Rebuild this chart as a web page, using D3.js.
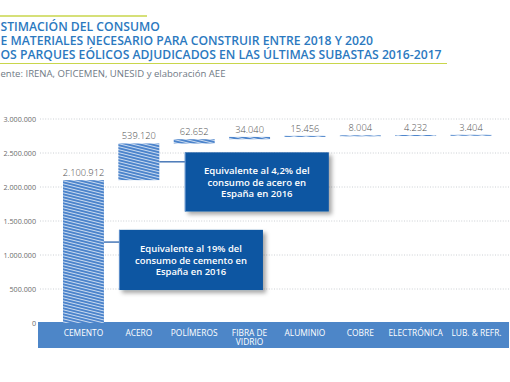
<!DOCTYPE html>
<html>
<head>
<meta charset="utf-8">
<script src="https://cdn.jsdelivr.net/npm/d3@7"></script>
<style>
  html, body { margin: 0; padding: 0; background: #fff; }
  svg { display: block; }
</style>
</head>
<body>
<div id="chart"></div>
<script>
// ---- data ----
const categories = ["CEMENTO", "ACERO", "POLÍMEROS", "FIBRA DE\nVIDRIO", "ALUMINIO", "COBRE", "ELECTRÓNICA", "LUB. & REFR."];
const values = [2100912, 539120, 62652, 34040, 15456, 8004, 4232, 3404];
const valueLabels = ["2.100.912", "539.120", "62.652", "34.040", "15.456", "8.004", "4.232", "3.404"];
const yTicks = [0, 500000, 1000000, 1500000, 2000000, 2500000, 3000000];
const yTickLabels = ["0", "500.000", "1.000.000", "1.500.000", "2.000.000", "2.500.000", "3.000.000"];
// title and source as visible in the reference (left edge cropped in the original image)
const titleLines = ["STIMACIÓN DEL CONSUMO", "E MATERIALES NECESARIO PARA CONSTRUIR ENTRE 2018 Y 2020", "OS PARQUES EÓLICOS ADJUDICADOS EN LAS ÚLTIMAS SUBASTAS 2016-2017"];
const sourceText = "ente: IRENA, OFICEMEN, UNESID y elaboración AEE";
const callouts = [
  { cat: "ACERO", lines: ["Equivalente al 4,2% del", "consumo de acero en", "España en 2016"], anchor: 2370472, top: 2510000, bottom: 1640000 },
  { cat: "CEMENTO", lines: ["Equivalente al 19% del", "consumo de cemento en", "España en 2016"], anchor: 1190000, top: 1370000, bottom: 485000 }
];

// ---- layout ----
const W = 510, H = 382;
const FONT = "'Open Sans', 'Noto Sans', sans-serif";
const svg = d3.select("#chart").append("svg").attr("width", W).attr("height", H);

const defs = svg.append("defs");
const pat = defs.append("pattern").attr("id", "hatch").attr("patternUnits", "userSpaceOnUse")
  .attr("width", 12).attr("height", 3);
pat.append("rect").attr("width", 12).attr("height", 3).attr("fill", "#4c84cb");
pat.append("path").attr("d", "M0,0 L12,3 M0,-3 L12,0 M0,3 L12,6")
  .attr("stroke", "#e3ecf7").attr("stroke-width", 0.85);
const filt = defs.append("filter").attr("id", "shadow").attr("x", "-20%").attr("y", "-20%").attr("width", "150%").attr("height", "150%");
filt.append("feDropShadow").attr("dx", 3).attr("dy", 3).attr("stdDeviation", 2.2)
  .attr("flood-color", "#000").attr("flood-opacity", 0.35);

const x = d3.scaleBand().domain(categories).range([55.8, 498.7]).paddingInner(0.26).paddingOuter(0.13);
const y = d3.scaleLinear().domain([0, 3000000]).range([323, 119]);

// helper: set font size so that text reaches target width
function fitWidth(sel, width) {
  const fs0 = +sel.attr("font-size");
  const w = sel.node().getComputedTextLength();
  sel.attr("font-size", fs0 * width / w);
}

// waterfall cumulative
let cum = 0;
const bars = categories.map((c, i) => { const start = cum; cum += values[i]; return { cat: c, start, end: cum, label: valueLabels[i] }; });

// ---- title ----
svg.append("line").attr("x1", 0).attr("x2", 147).attr("y1", 16).attr("y2", 16)
  .attr("stroke", "#c9d64b").attr("stroke-width", 1.6);
const tBase = [31, 45, 59];
const tLines = titleLines.map((t, i) => svg.append("text").attr("y", tBase[i]).attr("x", 0.5)
  .attr("font-family", FONT).attr("font-weight", 600).attr("font-size", 12)
  .attr("fill", "#2b79bf").text(t));
fitWidth(tLines[2], 441.5);
const tfs = tLines[2].attr("font-size");
tLines.forEach(t => t.attr("font-size", tfs));

svg.append("line").attr("x1", 0).attr("x2", 447).attr("y1", 63.5).attr("y2", 63.5)
  .attr("stroke", "#c9d64b").attr("stroke-width", 1.2);
const src = svg.append("text").attr("y", 77).attr("x", 0.5)
  .attr("font-family", FONT).attr("font-size", 8.5).attr("fill", "#6f7a86").text(sourceText);
fitWidth(src, 225.5);

// ---- grid ----
const grid = svg.append("g");
yTicks.forEach((v, i) => {
  if (v > 0) grid.append("line").attr("x1", 40).attr("x2", 510).attr("y1", y(v)).attr("y2", y(v))
    .attr("stroke", "#bfc4c9").attr("stroke-width", 0.8).attr("stroke-dasharray", "1,1.6");
  grid.append("text").attr("x", 36).attr("y", y(v) + 2.5).attr("text-anchor", "end")
    .attr("font-family", FONT).attr("font-size", 7.2).attr("fill", "#6b6b6b").text(yTickLabels[i]);
});

// ---- x axis band ----
svg.append("rect").attr("x", 38).attr("y", 322).attr("width", 471).attr("height", 26).attr("fill", "#4d86c8");
categories.forEach((c, i) => {
  const parts = c.split("\n");
  const nudge = i === categories.length - 1 ? 5.5 : 0;
  parts.forEach((p, j) => svg.append("text").attr("text-anchor", "middle").attr("font-family", FONT)
    .attr("font-size", 8.4).attr("fill", "#fff")
    .attr("x", x(c) + x.bandwidth() / 2 + nudge).attr("y", 336 + j * 9).text(p));
});

// ---- bars ----
svg.append("g").selectAll("rect").data(bars).join("rect")
  .attr("x", d => x(d.cat)).attr("width", x.bandwidth())
  .attr("y", d => y(d.end)).attr("height", d => Math.max(1, y(d.start) - y(d.end)))
  .attr("fill", "url(#hatch)");
svg.append("g").selectAll("text").data(bars).join("text")
  .attr("x", d => x(d.cat) + x.bandwidth() / 2).attr("y", d => y(d.end) - 4)
  .attr("text-anchor", "middle").attr("font-family", FONT).attr("font-size", 9.3).attr("font-weight", 300)
  .attr("fill", "#505050").text(d => d.label);

// ---- callouts ----
callouts.forEach(c => {
  const bx = x(c.cat) + x.bandwidth();
  const boxX = bx + (c.cat === "ACERO" ? 25.5 : 15);
  const boxW = 144;
  const top = y(c.top), bot = y(c.bottom);
  svg.append("line").attr("x1", bx).attr("x2", boxX).attr("y1", y(c.anchor)).attr("y2", y(c.anchor))
    .attr("stroke", "#3c6fb2").attr("stroke-width", 1.4);
  svg.append("rect").attr("x", boxX).attr("y", top).attr("width", boxW).attr("height", bot - top)
    .attr("fill", "#0e56a2").attr("filter", "url(#shadow)");
  svg.append("line").attr("x1", boxX + 0.5).attr("x2", boxX + 0.5).attr("y1", top).attr("y2", bot)
    .attr("stroke", "#5f8fcb").attr("stroke-width", 1);
  const cy = (top + bot) / 2;
  const texts = c.lines.map((l, j) => svg.append("text").attr("x", boxX + boxW / 2).attr("y", cy - 7.5 + j * 11.5)
    .attr("text-anchor", "middle").attr("font-family", FONT).attr("font-weight", 600)
    .attr("font-size", 9).attr("fill", "#fff").text(l));
  fitWidth(texts[0], c.cat === "ACERO" ? 106 : 102);
  const fs = texts[0].attr("font-size");
  texts.forEach(t => t.attr("font-size", fs));
});
</script>
</body>
</html>
